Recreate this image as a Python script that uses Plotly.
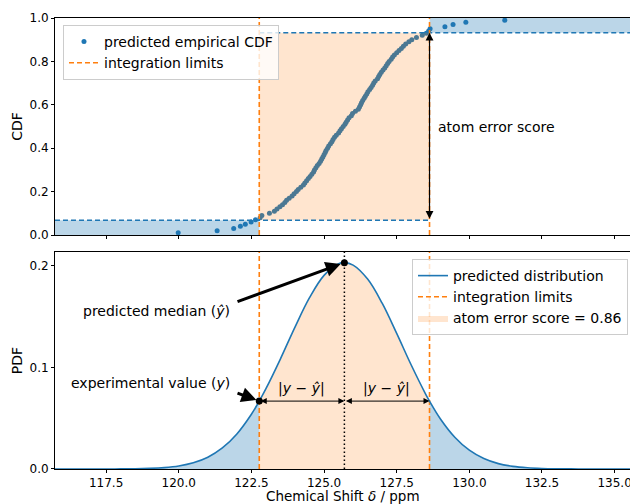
import plotly.graph_objects as go

# ---------------- data ----------------
# predicted empirical CDF (sample quantiles)
cdf_x = [119.98, 121.32, 121.89, 122.12, 122.29, 122.49, 122.64, 122.80, 122.86, 123.12,
         123.29, 123.38, 123.48, 123.57, 123.65, 123.71, 123.80, 123.90, 123.97, 124.05,
         124.11, 124.20, 124.29, 124.34, 124.40, 124.46, 124.52, 124.58, 124.64, 124.67,
         124.72, 124.77, 124.83, 124.88, 124.92, 124.96, 125.00, 125.04, 125.07, 125.12,
         125.16, 125.22, 125.27, 125.31, 125.36, 125.42, 125.50, 125.55, 125.60, 125.66,
         125.72, 125.76, 125.81, 125.86, 125.94, 125.98, 126.08, 126.18, 126.22, 126.26,
         126.29, 126.33, 126.38, 126.42, 126.47, 126.51, 126.57, 126.62, 126.67, 126.71,
         126.76, 126.84, 126.88, 126.92, 126.97, 127.03, 127.09, 127.14, 127.19, 127.24,
         127.31, 127.36, 127.42, 127.50, 127.58, 127.66, 127.73, 127.81, 127.92, 128.02,
         128.18, 128.38, 128.52, 128.60, 128.65, 129.16, 129.44, 129.88, 131.22]
cdf_y = [0.01, 0.02, 0.03, 0.04, 0.05, 0.06, 0.07, 0.08, 0.09, 0.10,
         0.11, 0.12, 0.13, 0.14, 0.15, 0.16, 0.17, 0.18, 0.19, 0.20,
         0.21, 0.22, 0.23, 0.24, 0.25, 0.26, 0.27, 0.28, 0.29, 0.30,
         0.31, 0.32, 0.33, 0.34, 0.35, 0.36, 0.37, 0.38, 0.39, 0.40,
         0.41, 0.42, 0.43, 0.44, 0.45, 0.46, 0.47, 0.48, 0.49, 0.50,
         0.51, 0.52, 0.53, 0.54, 0.55, 0.56, 0.57, 0.58, 0.59, 0.60,
         0.61, 0.62, 0.63, 0.64, 0.65, 0.66, 0.67, 0.68, 0.69, 0.70,
         0.71, 0.72, 0.73, 0.74, 0.75, 0.76, 0.77, 0.78, 0.79, 0.80,
         0.81, 0.82, 0.83, 0.84, 0.85, 0.86, 0.87, 0.88, 0.89, 0.90,
         0.91, 0.92, 0.93, 0.94, 0.95, 0.96, 0.97, 0.98, 0.99]

# predicted distribution (PDF)
pdf_x = [115.5, 116.0, 116.5, 117.0, 117.5, 118.0, 118.5, 119.0, 119.5, 120.0,
         120.5, 121.0, 121.5, 122.0, 122.5, 122.77, 123.0, 123.5, 124.0, 124.5,
         125.0, 125.5, 125.7, 126.0, 126.5, 127.0, 127.5, 128.0, 128.5, 128.63,
         129.0, 129.5, 130.0, 130.5, 131.0, 131.5, 132.0, 132.5, 133.0, 133.5,
         134.0, 134.5, 135.0, 135.5, 136.0]
pdf_y = [0.0000, 0.0000, 0.0000, 0.0000, 0.0000, 0.0001, 0.0002, 0.0006, 0.0014, 0.0030,
         0.0061, 0.0116, 0.0207, 0.0345, 0.0539, 0.0668, 0.0790, 0.1084, 0.1396, 0.1685,
         0.1905, 0.2019, 0.2030, 0.2006, 0.1868, 0.1631, 0.1334, 0.1023, 0.0735, 0.0668,
         0.0495, 0.0313, 0.0185, 0.0103, 0.0053, 0.0026, 0.0012, 0.0005, 0.0002, 0.0001,
         0.0000, 0.0000, 0.0000, 0.0000, 0.0000]

experimental_value = 122.77
predicted_median = 125.70
upper_limit = 128.63
pdf_at_experimental = 0.0668
pdf_at_median = 0.2030
cdf_lower = 0.068
cdf_upper = 0.932
atom_error_score = 0.86

x_ticks = [117.5, 120.0, 122.5, 125.0, 127.5, 130.0, 132.5, 135.0]
cdf_ticks = [0.0, 0.2, 0.4, 0.6, 0.8, 1.0]
pdf_ticks = [0.0, 0.1, 0.2]

# ---------------- style ----------------
X_MIN, X_MAX = 115.74, 135.53
PDF_TOP = 0.2135
BLUE = "#1f77b4"
ORANGE = "#ff7f0e"
BLUE_FILL = "rgba(31,119,180,0.3)"
ORANGE_FILL = "rgba(255,127,14,0.2)"
FONT = "DejaVu Sans"

lo, hi = experimental_value, upper_limit

fig = go.Figure()

# ---------- top panel (CDF) ----------
fig.add_trace(go.Scatter(x=[X_MIN, lo, lo, X_MIN, X_MIN], y=[0, 0, cdf_lower, cdf_lower, 0],
                         fill="toself", fillcolor=BLUE_FILL, mode="lines", line=dict(width=0),
                         showlegend=False, hoverinfo="skip", xaxis="x2", yaxis="y2"))
fig.add_trace(go.Scatter(x=[hi, X_MAX, X_MAX, hi, hi], y=[cdf_upper, cdf_upper, 1, 1, cdf_upper],
                         fill="toself", fillcolor=BLUE_FILL, mode="lines", line=dict(width=0),
                         showlegend=False, hoverinfo="skip", xaxis="x2", yaxis="y2"))
fig.add_trace(go.Scatter(x=cdf_x, y=cdf_y, mode="markers", marker=dict(size=5, color=BLUE),
                         name="predicted empirical CDF", legend="legend", xaxis="x2", yaxis="y2"))
fig.add_trace(go.Scatter(x=[lo, hi, hi, lo, lo], y=[cdf_lower, cdf_lower, cdf_upper, cdf_upper, cdf_lower],
                         fill="toself", fillcolor=ORANGE_FILL, mode="lines", line=dict(width=0),
                         showlegend=False, hoverinfo="skip", xaxis="x2", yaxis="y2"))
fig.add_trace(go.Scatter(x=[X_MIN, hi, None, lo, X_MAX], y=[cdf_lower, cdf_lower, None, cdf_upper, cdf_upper],
                         mode="lines", line=dict(color=BLUE, width=1.5, dash="5px,3px"),
                         showlegend=False, hoverinfo="skip", xaxis="x2", yaxis="y2"))
fig.add_trace(go.Scatter(x=[lo, lo, None, hi, hi], y=[0, 1, None, 0, 1], mode="lines",
                         line=dict(color=ORANGE, width=1.6, dash="5px,3px"),
                         name="integration limits", legend="legend", xaxis="x2", yaxis="y2"))

# ---------- bottom panel (PDF) ----------
left_x = [x for x in pdf_x if x <= lo]
left_y = [y for x, y in zip(pdf_x, pdf_y) if x <= lo]
mid_x = [x for x in pdf_x if lo <= x <= hi]
mid_y = [y for x, y in zip(pdf_x, pdf_y) if lo <= x <= hi]
right_x = [x for x in pdf_x if x >= hi]
right_y = [y for x, y in zip(pdf_x, pdf_y) if x >= hi]

fig.add_trace(go.Scatter(x=left_x, y=left_y, fill="tozeroy", fillcolor=BLUE_FILL, mode="lines",
                         line=dict(width=0, shape="spline"), showlegend=False, hoverinfo="skip"))
fig.add_trace(go.Scatter(x=mid_x, y=mid_y, fill="tozeroy", fillcolor=ORANGE_FILL, mode="lines",
                         line=dict(width=0, shape="spline"),
                         name=f"atom error score = {atom_error_score:.2f}", legend="legend2", legendrank=3))
fig.add_trace(go.Scatter(x=right_x, y=right_y, fill="tozeroy", fillcolor=BLUE_FILL, mode="lines",
                         line=dict(width=0, shape="spline"), showlegend=False, hoverinfo="skip"))
fig.add_trace(go.Scatter(x=[lo, lo, None, hi, hi], y=[0, PDF_TOP, None, 0, PDF_TOP], mode="lines",
                         line=dict(color=ORANGE, width=1.6, dash="5px,3px"),
                         name="integration limits", legend="legend2", legendrank=2))
fig.add_trace(go.Scatter(x=[predicted_median, predicted_median], y=[0, PDF_TOP], mode="lines",
                         line=dict(color="black", width=1.5, dash="1.5px,2.5px"),
                         showlegend=False, hoverinfo="skip"))
fig.add_trace(go.Scatter(x=pdf_x, y=pdf_y, mode="lines", line=dict(color=BLUE, width=1.6, shape="spline"),
                         name="predicted distribution", legend="legend2", legendrank=1))
fig.add_trace(go.Scatter(x=[lo, predicted_median], y=[pdf_at_experimental, pdf_at_median], mode="markers",
                         marker=dict(size=7, color="black"), showlegend=False))

# ---------- annotations ----------
ann = []
# atom error score double arrow (top)
ann.append(dict(x=hi, y=cdf_upper, ax=hi, ay=cdf_lower, xref="x2", yref="y2", axref="x2", ayref="y2",
                text="", showarrow=True, arrowhead=2, arrowside="end+start", arrowsize=1.3,
                arrowwidth=1.2, arrowcolor="black", standoff=0, startstandoff=0))
ann.append(dict(x=128.87, y=0.5, xref="x2", yref="y2", text="atom error score", showarrow=False,
                xanchor="left", yanchor="middle", font=dict(size=14, color="black", family=FONT)))
# |y - y_hat| arrows
ann.append(dict(x=predicted_median, y=pdf_at_experimental, ax=lo, ay=pdf_at_experimental,
                xref="x", yref="y", axref="x", ayref="y", text="", showarrow=True, arrowhead=2,
                arrowside="end+start", arrowsize=1.2, arrowwidth=1, arrowcolor="black", standoff=0, startstandoff=0))
ann.append(dict(x=hi, y=pdf_at_experimental, ax=predicted_median, ay=pdf_at_experimental,
                xref="x", yref="y", axref="x", ayref="y", text="", showarrow=True, arrowhead=2,
                arrowside="end+start", arrowsize=1.2, arrowwidth=1, arrowcolor="black", standoff=0, startstandoff=0))
for cx in [(lo + predicted_median) / 2, (predicted_median + hi) / 2]:
    ann.append(dict(x=cx, y=pdf_at_experimental, xref="x", yref="y", yshift=2,
                    text="|<i>y</i> − <i>ŷ</i>|", showarrow=False, xanchor="center", yanchor="bottom",
                    font=dict(size=14, color="black", family=FONT)))
# thick arrows with labels
ann.append(dict(x=predicted_median, y=pdf_at_median, ax=121.97, ay=0.1642, xref="x", yref="y",
                axref="x", ayref="y", text="", showarrow=True, arrowhead=2, arrowsize=1,
                arrowwidth=3, arrowcolor="black", standoff=4, startstandoff=0))
ann.append(dict(x=lo, y=pdf_at_experimental, ax=121.97, ay=0.0752, xref="x", yref="y",
                axref="x", ayref="y", text="", showarrow=True, arrowhead=2, arrowsize=1,
                arrowwidth=3, arrowcolor="black", standoff=3, startstandoff=0))
ann.append(dict(x=121.84, y=0.155, xref="x", yref="y", text="predicted median (<i>ŷ</i>)",
                showarrow=False, xanchor="right", yanchor="middle",
                font=dict(size=14, color="black", family=FONT)))
ann.append(dict(x=121.84, y=0.085, xref="x", yref="y", text="experimental value (<i>y</i>)",
                showarrow=False, xanchor="right", yanchor="middle",
                font=dict(size=14, color="black", family=FONT)))
# x-axis title (placed as paper annotation just below the tick labels)
ann.append(dict(x=0.5, y=0, xref="paper", yref="paper", yshift=-26.5, text="Chemical Shift <i>δ</i> / ppm",
                showarrow=False, xanchor="center", yanchor="middle", borderpad=0,
                font=dict(size=13.5, color="black", family=FONT)))

axis_common = dict(showgrid=False, zeroline=False, showline=True, linecolor="black", linewidth=1,
                   ticks="outside", ticklen=3, tickwidth=1, tickcolor="black", automargin=False,
                   tickfont=dict(size=12, color="black", family=FONT))

fig.update_layout(
    width=630, height=504,
    margin=dict(l=55, r=0, t=18, b=35),
    paper_bgcolor="white", plot_bgcolor="white",
    font=dict(family=FONT, size=12, color="black"),
    xaxis=dict(domain=[0, 1], anchor="y", range=[X_MIN, X_MAX], tickvals=x_ticks,
               ticktext=[f"{v:.1f}" for v in x_ticks], mirror=True, ticklabeloverflow="allow",
               **axis_common),
    xaxis2=dict(domain=[0, 1], anchor="y2", matches="x", range=[X_MIN, X_MAX], tickvals=x_ticks,
                showticklabels=False, mirror=True, **axis_common),
    yaxis=dict(domain=[0, 0.4812], anchor="x", range=[0, PDF_TOP], tickvals=pdf_ticks,
               ticktext=[f"{v:.1f}" for v in pdf_ticks],
               title=dict(text="PDF", font=dict(size=14, family=FONT), standoff=3), **axis_common),
    yaxis2=dict(domain=[0.5188, 1], anchor="x2", range=[0, 1], tickvals=cdf_ticks,
                ticktext=[f"{v:.1f}" for v in cdf_ticks],
                title=dict(text="CDF", font=dict(size=14, family=FONT), standoff=3), **axis_common),
    legend=dict(x=0.0139, y=0.9845, xanchor="left", yanchor="top", bgcolor="rgba(255,255,255,0.8)",
                bordercolor="#cccccc", borderwidth=1, font=dict(size=14, family=FONT, color="black")),
    legend2=dict(x=0.9965, y=0.4656, xanchor="right", yanchor="top", bgcolor="rgba(255,255,255,0.8)",
                 bordercolor="#cccccc", borderwidth=1, font=dict(size=14, family=FONT, color="black")),
    annotations=ann,
    showlegend=True,
)

fig.write_html("out.html")
